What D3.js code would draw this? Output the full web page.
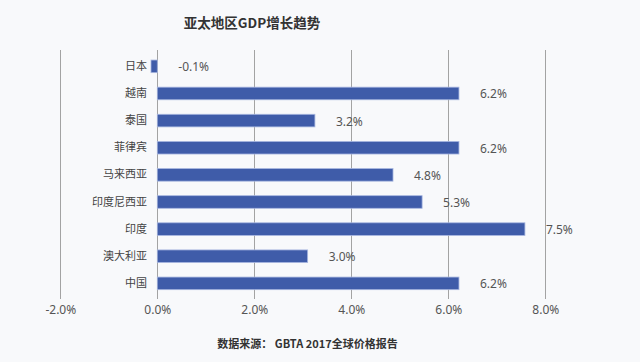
<!DOCTYPE html>
<html><head><meta charset="utf-8">
<script src="https://cdn.jsdelivr.net/npm/d3@7"></script>
<style>
html,body{margin:0;padding:0;background:#f8f9fb;}
svg{display:block;font-family:"Noto Sans CJK SC","Noto Sans",sans-serif;}
</style></head><body>
<svg id="c" width="640" height="362"></svg>
<script>
const categories = ["日本","越南","泰国","菲律宾","马来西亚","印度尼西亚","印度","澳大利亚","中国"];
const values = [-0.13, 6.22, 3.25, 6.22, 4.86, 5.46, 7.58, 3.10, 6.22];
const valueLabels = ["-0.1%","6.2%","3.2%","6.2%","4.8%","5.3%","7.5%","3.0%","6.2%"];
const xTicks = [-2, 0, 2, 4, 6, 8];
const title = "亚太地区GDP增长趋势";
const source = "数据来源： GBTA 2017全球价格报告";

const svg = d3.select("#c");
svg.append("rect").attr("width",640).attr("height",362).attr("fill","#f8f9fb");

const x = d3.scaleLinear().domain([-2, 8]).range([60.3, 545.3]);
const y = d3.scaleBand().domain(categories).range([52.7, 297]).paddingInner(0.535).paddingOuter(0.27);

// gridlines
svg.append("g").selectAll("line").data(xTicks).join("line")
  .attr("x1", d => x(d)).attr("x2", d => x(d))
  .attr("y1", 50).attr("y2", 299)
  .attr("stroke", "#a3a3a3").attr("stroke-width", 1).attr("shape-rendering","crispEdges");

// x axis labels
const xAxis = d3.axisBottom(x).tickValues(xTicks).tickSize(0).tickPadding(0)
  .tickFormat(d => d3.format(".1f")(d).replace("\u2212", "-") + "%");
const gx = svg.append("g").attr("transform", "translate(0,305)").call(xAxis);
gx.select(".domain").remove();
gx.selectAll("text").attr("font-size", 12).attr("fill", "#555").attr("font-family","Noto Sans, sans-serif");

// bars
svg.append("g").selectAll("rect").data(values).join("rect")
  .attr("x", d => x(Math.min(0, d)))
  .attr("width", d => Math.abs(x(d) - x(0)))
  .attr("y", (d, i) => y(categories[i]))
  .attr("height", y.bandwidth())
  .attr("fill", "#3f5ca9")
  .attr("stroke", "#a8b7e0").attr("stroke-width", 0.8);

// category labels
const yAxis = d3.axisLeft(y).tickSize(0).tickPadding(0);
const gy = svg.append("g").attr("transform", "translate(147,0)").call(yAxis);
gy.select(".domain").remove();
gy.selectAll("text").attr("font-size", 11).attr("fill", "#444").attr("font-family","Noto Sans CJK SC, sans-serif");

// value labels
svg.append("g").selectAll("text").data(values).join("text")
  .attr("x", d => x(Math.max(0, d)) + 21)
  .attr("y", (d, i) => y(categories[i]) + y.bandwidth() / 2 + 0.5)
  .attr("dominant-baseline", "central")
  .attr("font-size", 12).attr("fill", "#555").attr("font-family","Noto Sans, sans-serif")
  .text((d, i) => valueLabels[i]);

// title
svg.append("text").attr("x", 252).attr("y", 22).attr("text-anchor", "middle")
  .attr("dominant-baseline","central")
  .attr("font-size", 13.5).attr("font-weight", "bold").attr("fill", "#333").text(title);

// source
svg.append("text").attr("x", 307.5).attr("y", 342.5).attr("text-anchor", "middle")
  .attr("dominant-baseline","central")
  .attr("font-size", 11).attr("font-weight", "bold").attr("fill", "#333").text(source);
</script>
</body></html>
